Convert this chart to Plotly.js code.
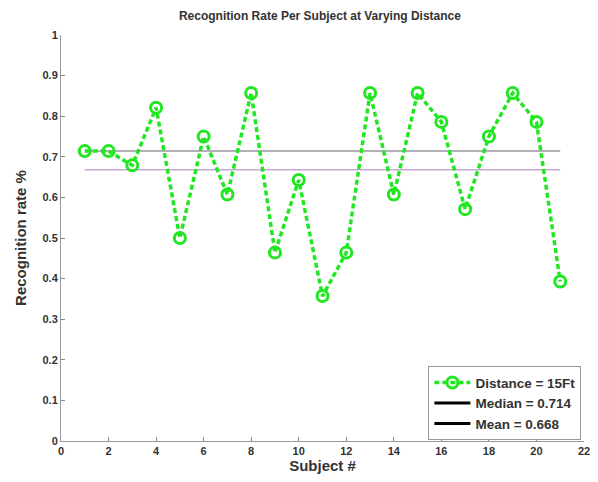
<!DOCTYPE html>
<html><head><meta charset="utf-8">
<script src="https://cdn.plot.ly/plotly-3.0.1.min.js"></script>
<style>body{margin:0;background:#fff}#c{width:598px;height:482px}</style>
</head><body><div id="c"></div>
<script>
const subjects = [1,2,3,4,5,6,7,8,9,10,11,12,13,14,15,16,17,18,19,20,21];
const rates = [0.714,0.714,0.679,0.821,0.5,0.75,0.607,0.857,0.464,0.643,0.357,0.464,0.857,0.607,0.857,0.786,0.571,0.75,0.857,0.786,0.393];
const medianVal = 0.714;
const meanVal = 0.668;
const seriesName = "Distance = 15Ft";
const xTicks = [0,2,4,6,8,10,12,14,16,18,20,22];
const yTicks = [0,0.1,0.2,0.3,0.4,0.5,0.6,0.7,0.8,0.9,1];

const xs = [subjects[0], subjects[subjects.length-1]];
const traces = [
  {x: xs, y: [medianVal, medianVal], mode:'lines', line:{color:'#9a949e', width:1.5}, showlegend:false, hoverinfo:'skip'},
  {x: xs, y: [meanVal, meanVal], mode:'lines', line:{color:'#c8a6d6', width:1.5}, showlegend:false, hoverinfo:'skip'},
  {x: subjects, y: rates, mode:'lines+markers', name: seriesName,
   line:{color:'#22e622', width:3.5, dash:'5px,3px'},
   marker:{symbol:'circle-open', size:11, color:'#22e622', line:{width:3, color:'#22e622'}}},
  {x:[null], y:[null], mode:'lines', name:'Median = ' + medianVal.toFixed(3), line:{color:'#000', width:3}},
  {x:[null], y:[null], mode:'lines', name:'Mean = ' + meanVal.toFixed(3), line:{color:'#000', width:3}}
];
const f = {family:'"Liberation Sans", Arial, sans-serif', color:'#222'};
const layout = {
  width:598, height:482,
  margin:{l:61, r:14, t:35, b:41},
  paper_bgcolor:'#fff', plot_bgcolor:'#fff',
  title:{text:'<b>Recognition Rate Per Subject at Varying Distance</b>', font:{family:f.family, size:12, color:'#333'}, x:0.535, xanchor:'center', y:0.975, yanchor:'top'},
  xaxis:{range:[0,22], tickvals:xTicks, ticktext:xTicks.map(String), ticks:'inside', ticklen:4, tickcolor:'#888',
    showline:true, linecolor:'#999', linewidth:1, showgrid:false, zeroline:false,
    tickfont:{family:f.family, size:11, color:'#333', weight:'bold'},
    title:{text:'<b>Subject #</b>', font:{family:f.family, size:15, color:'#333'}, standoff:4}},
  yaxis:{range:[0,1], tickvals:yTicks, ticktext:yTicks.map(String), ticks:'inside', ticklen:4, tickcolor:'#888',
    showline:true, linecolor:'#999', linewidth:1, showgrid:false, zeroline:false,
    tickfont:{family:f.family, size:11, color:'#333', weight:'bold'},
    title:{text:'<b>Recognition rate %</b>', font:{family:f.family, size:15, color:'#333'}, standoff:12}},
  legend:{x:0.995, xanchor:'right', y:0.002, yanchor:'bottom', bgcolor:'#fff', bordercolor:'#999', borderwidth:1,
    font:{family:f.family, size:13.5, color:'#333', weight:'bold'}, tracegroupgap:0, itemwidth:36},
  showlegend:true
};
Plotly.newPlot('c', traces, layout, {displayModeBar:false, staticPlot:true});
</script></body></html>
